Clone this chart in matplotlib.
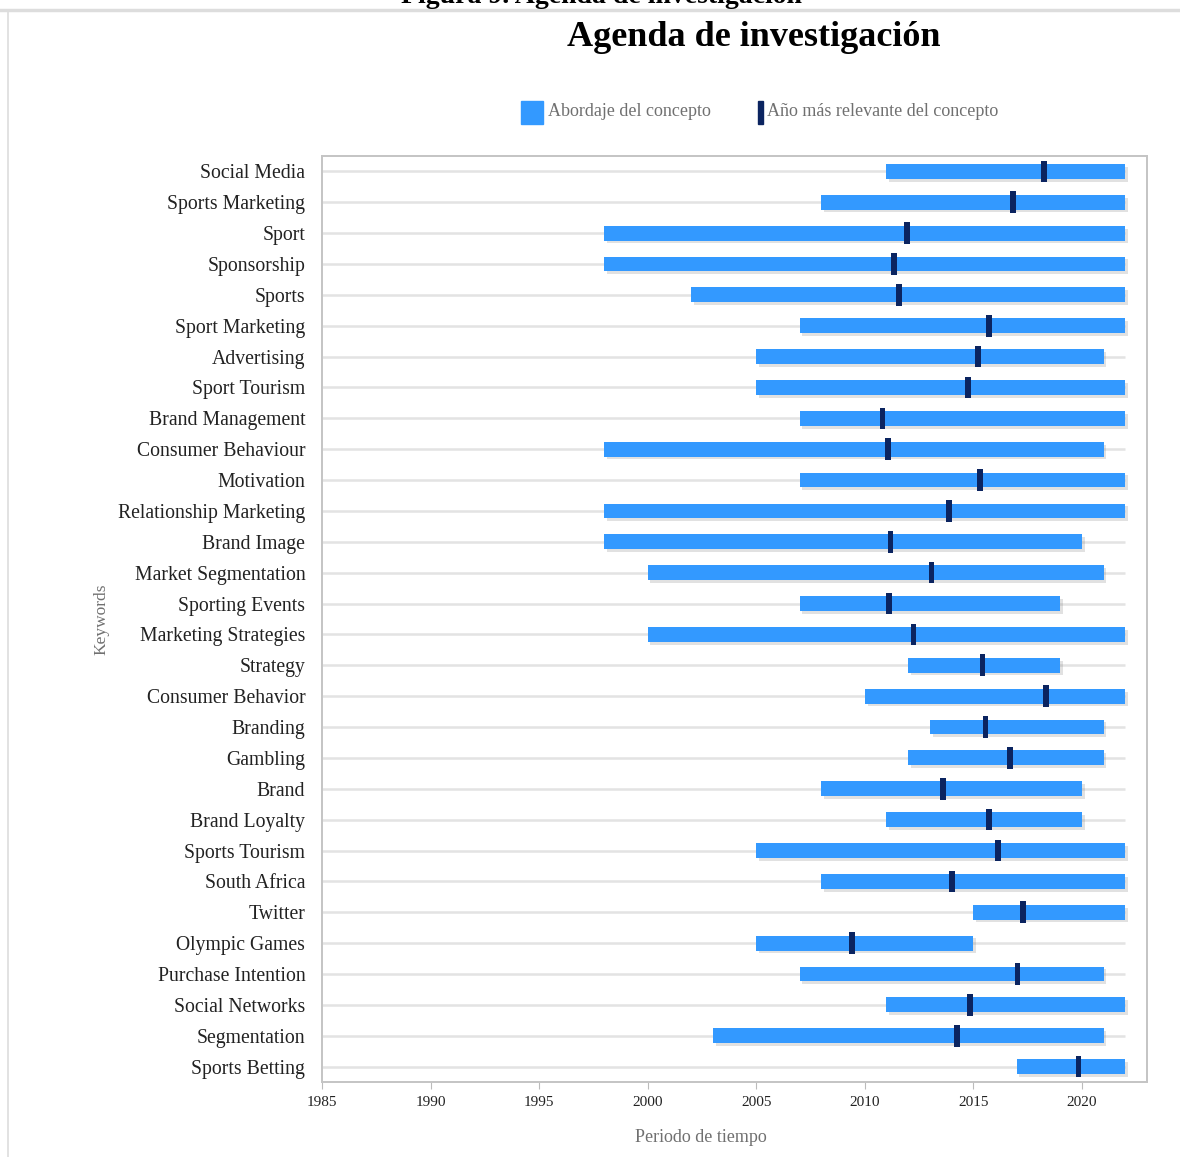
import matplotlib
matplotlib.use("Agg")
import matplotlib.pyplot as plt
import matplotlib.patheffects as pe
from matplotlib.patches import Rectangle
from matplotlib.lines import Line2D

plt.rcParams['font.family'] = ['Liberation Serif', 'DejaVu Serif']

# keywords, top to bottom
keywords = ["Social Media", "Sports Marketing", "Sport", "Sponsorship", "Sports",
            "Sport Marketing", "Advertising", "Sport Tourism", "Brand Management",
            "Consumer Behaviour", "Motivation", "Relationship Marketing", "Brand Image",
            "Market Segmentation", "Sporting Events", "Marketing Strategies", "Strategy",
            "Consumer Behavior", "Branding", "Gambling", "Brand", "Brand Loyalty",
            "Sports Tourism", "South Africa", "Twitter", "Olympic Games",
            "Purchase Intention", "Social Networks", "Segmentation", "Sports Betting"]

# first and last year the concept is studied
start_year = [2011, 2008, 1998, 1998, 2002, 2007, 2005, 2005, 2007, 1998,
              2007, 1998, 1998, 2000, 2007, 2000, 2012, 2010, 2013, 2012,
              2008, 2011, 2005, 2008, 2015, 2005, 2007, 2011, 2003, 2017]
end_year = [2022, 2022, 2022, 2022, 2022, 2022, 2021, 2022, 2022, 2021,
            2022, 2022, 2020, 2021, 2019, 2022, 2019, 2022, 2021, 2021,
            2020, 2020, 2022, 2022, 2022, 2015, 2021, 2022, 2021, 2022]

# most relevant year of the concept
top_year = [2018.27, 2016.82, 2011.94, 2011.35, 2011.58, 2015.71, 2015.23, 2014.76, 2010.82, 2011.06,
            2015.30, 2013.87, 2011.19, 2013.07, 2011.11, 2012.24, 2015.42, 2018.35, 2015.57, 2016.70,
            2013.60, 2015.71, 2016.15, 2014.02, 2017.28, 2009.42, 2017.04, 2014.86, 2014.24, 2019.84]

xticks = [1985, 1990, 1995, 2000, 2005, 2010, 2015, 2020]

blue = "#3399ff"
navy = "#0b2460"
grey_txt = "#707070"

fig = plt.figure(figsize=(11.8, 11.57), dpi=100)
ax = fig.add_axes([0.2729, 0.0648, 0.9720 - 0.2729, 0.8652 - 0.0648])

ypos = list(range(len(keywords)))
widths = [e - s for s, e in zip(start_year, end_year)]

# light row lines
ax.hlines(ypos, xticks[0], max(end_year), color="#e3e3e3", lw=1.8, zorder=1)

shadow = [pe.SimplePatchShadow(offset=(2, -2), shadow_rgbFace="#777777", alpha=0.22), pe.Normal()]
ax.barh(ypos, widths, left=start_year, height=0.48, color=blue, zorder=2,
        path_effects=shadow)

mw = 0.26
ax.barh(ypos, mw, left=[t - mw / 2 for t in top_year], height=0.7, color=navy, zorder=3)

ax.set_xlim(1985, 2023)
ax.set_ylim(len(keywords) - 0.5, -0.5)
ax.set_yticks(ypos)
ax.set_yticklabels(keywords, fontsize=14.2, color="#222222")
ax.set_xticks(xticks)
ax.set_xticklabels([str(x) for x in xticks], fontsize=11, color="#222222")
ax.tick_params(axis="y", length=0, pad=12)
ax.tick_params(axis="x", length=5, color="#bbbbbb", pad=5)
for s in ax.spines.values():
    s.set_color("#c4c4c4")
    s.set_linewidth(1.4)

ax.set_xlabel("Periodo de tiempo", fontsize=13, color=grey_txt)
ax.xaxis.set_label_coords(0.459, -0.051)
ax.set_ylabel("Keywords", fontsize=12.5, color=grey_txt)
ax.yaxis.set_label_coords(-0.258, 0.5)

# titles
fig.text(0.639, 0.968, "Agenda de investigación", fontsize=26, fontweight="bold",
         ha="center", va="center")
fig.text(0.510, 1.003, "Figura 9. Agenda de investigación", fontsize=20, fontweight="bold",
         ha="center", va="center")

# page frame lines
fig.add_artist(Line2D([0, 1], [0.9913, 0.9913], color="#dddddd", lw=2.5))
fig.add_artist(Line2D([0.0068, 0.0068], [0, 0.9913], color="#dddddd", lw=1.2))

# legend
fig.add_artist(Rectangle((521 / 1180, 1 - 124 / 1157), 22 / 1180, 23 / 1157,
                         transform=fig.transFigure, color=blue))
fig.text(548 / 1180, 1 - 111 / 1157, "Abordaje del concepto", fontsize=13,
         color=grey_txt, va="center")
fig.add_artist(Rectangle((758 / 1180, 1 - 124 / 1157), 5 / 1180, 23 / 1157,
                         transform=fig.transFigure, color=navy))
fig.text(767 / 1180, 1 - 111 / 1157, "Año más relevante del concepto", fontsize=13,
         color=grey_txt, va="center")

fig.savefig("out.png", dpi=100)
